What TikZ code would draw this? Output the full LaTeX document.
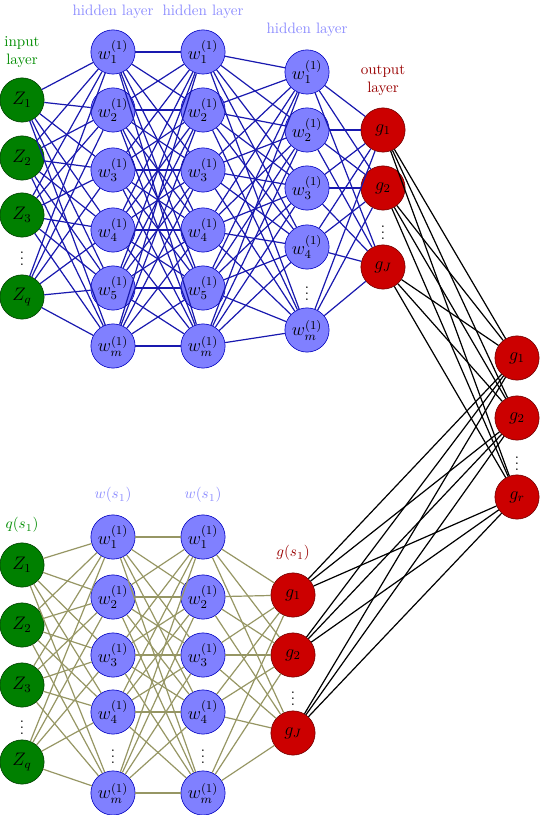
\documentclass[tikz,border=0pt]{standalone}
\usepackage{tikz}

\definecolor{netblue}{RGB}{25,25,175}
\definecolor{netolive}{RGB}{150,150,100}

\begin{document}
\begin{tikzpicture}[x=0.0233cm, y=-0.0233cm,
    inputnode/.style={circle, draw=green!25!black, fill=green!50!black, minimum size=1.03cm, inner sep=0pt, font=\large},
    hiddennode/.style={circle, draw=blue!75!black, fill=blue!50, minimum size=1.03cm, inner sep=0pt, font=\large},
    outputnode/.style={circle, draw=red!45!black, fill=red!80!black, minimum size=1.03cm, inner sep=0pt, font=\large},
    dotsnode/.style={inner sep=0pt},
    topedge/.style={draw=netblue, line width=0.8pt},
    botedge/.style={draw=netolive, line width=0.8pt},
    outedge/.style={draw=black, line width=0.8pt}]
    \useasboundingbox (0,0) rectangle (540,815);

    % labels
    \node[text=green!55!black, align=center] (lin) at (22,52) {input\\layer};
    \node[text=blue!45] (lh1) at (113,12) {hidden layer};
    \node[text=blue!45] (lh2) at (203,12) {hidden layer};
    \node[text=blue!45] (lh3) at (307,30) {hidden layer};
    \node[text=red!60!black, align=center] (lout) at (383,80) {output\\layer};
    \node[text=green!55!black] (lq) at (22,525) {$q(s_1)$};
    \node[text=blue!45] (lw1) at (113,495) {$w(s_1)$};
    \node[text=blue!45] (lw2) at (203,495) {$w(s_1)$};
    \node[text=red!60!black] (lg) at (293,553) {$g(s_1)$};

    % upper network
    \node[inputnode] (i1) at (22,100) {$Z_1$};
    \node[inputnode] (i2) at (22,158) {$Z_2$};
    \node[inputnode] (i3) at (22,215) {$Z_3$};
    \node[dotsnode] (idots) at (22,254) {$\vdots$};
    \node[inputnode] (i4) at (22,297) {$Z_q$};

    \node[hiddennode] (a1) at (113,52) {$w_1^{(1)}$};
    \node[hiddennode] (a2) at (113,110) {$w_2^{(1)}$};
    \node[hiddennode] (a3) at (113,170) {$w_3^{(1)}$};
    \node[hiddennode] (a4) at (113,230) {$w_4^{(1)}$};
    \node[hiddennode] (a5) at (113,288) {$w_5^{(1)}$};
    \node[hiddennode] (a6) at (113,346) {$w_m^{(1)}$};

    \node[hiddennode] (b1) at (203,52) {$w_1^{(1)}$};
    \node[hiddennode] (b2) at (203,110) {$w_2^{(1)}$};
    \node[hiddennode] (b3) at (203,170) {$w_3^{(1)}$};
    \node[hiddennode] (b4) at (203,230) {$w_4^{(1)}$};
    \node[hiddennode] (b5) at (203,288) {$w_5^{(1)}$};
    \node[hiddennode] (b6) at (203,346) {$w_m^{(1)}$};

    \node[hiddennode] (c1) at (307,72) {$w_1^{(1)}$};
    \node[hiddennode] (c2) at (307,130) {$w_2^{(1)}$};
    \node[hiddennode] (c3) at (307,188) {$w_3^{(1)}$};
    \node[hiddennode] (c4) at (307,247) {$w_4^{(1)}$};
    \node[dotsnode] (cdots) at (307,289) {$\vdots$};
    \node[hiddennode] (c5) at (307,330) {$w_m^{(1)}$};

    \node[outputnode] (o1) at (383,130) {$g_1$};
    \node[outputnode] (o2) at (383,188) {$g_2$};
    \node[dotsnode] (odots) at (383,228) {$\vdots$};
    \node[outputnode] (o3) at (383,267) {$g_J$};

    % final layer
    \node[outputnode] (f1) at (517,358) {$g_1$};
    \node[outputnode] (f2) at (517,418) {$g_2$};
    \node[dotsnode] (fdots) at (517,459) {$\vdots$};
    \node[outputnode] (f3) at (517,497) {$g_r$};

    % lower network
    \node[inputnode] (j1) at (22,565) {$Z_1$};
    \node[inputnode] (j2) at (22,625) {$Z_2$};
    \node[inputnode] (j3) at (22,685) {$Z_3$};
    \node[dotsnode] (jdots) at (22,723) {$\vdots$};
    \node[inputnode] (j4) at (22,762) {$Z_q$};

    \node[hiddennode] (d1) at (113,537) {$w_1^{(1)}$};
    \node[hiddennode] (d2) at (113,597) {$w_2^{(1)}$};
    \node[hiddennode] (d3) at (113,655) {$w_3^{(1)}$};
    \node[hiddennode] (d4) at (113,712) {$w_4^{(1)}$};
    \node[dotsnode] (ddots) at (113,752) {$\vdots$};
    \node[hiddennode] (d5) at (113,793) {$w_m^{(1)}$};

    \node[hiddennode] (e1) at (203,537) {$w_1^{(1)}$};
    \node[hiddennode] (e2) at (203,597) {$w_2^{(1)}$};
    \node[hiddennode] (e3) at (203,655) {$w_3^{(1)}$};
    \node[hiddennode] (e4) at (203,712) {$w_4^{(1)}$};
    \node[dotsnode] (edots) at (203,752) {$\vdots$};
    \node[hiddennode] (e5) at (203,793) {$w_m^{(1)}$};

    \node[outputnode] (p1) at (293,595) {$g_1$};
    \node[outputnode] (p2) at (293,655) {$g_2$};
    \node[dotsnode] (pdots) at (293,694) {$\vdots$};
    \node[outputnode] (p3) at (293,733) {$g_J$};

    % connections
    \foreach \s in {1,...,4}
        \foreach \t in {1,...,6}
            \draw[topedge] (i\s) -- (a\t);
    \foreach \s in {1,...,6}
        \foreach \t in {1,...,6}
            \draw[topedge] (a\s) -- (b\t);
    \foreach \s in {1,...,6}
        \foreach \t in {1,...,5}
            \draw[topedge] (b\s) -- (c\t);
    \foreach \s in {1,...,5}
        \foreach \t in {1,...,3}
            \draw[topedge] (c\s) -- (o\t);

    \foreach \s in {1,...,4}
        \foreach \t in {1,...,5}
            \draw[botedge] (j\s) -- (d\t);
    \foreach \s in {1,...,5}
        \foreach \t in {1,...,5}
            \draw[botedge] (d\s) -- (e\t);
    \foreach \s in {1,...,5}
        \foreach \t in {1,...,3}
            \draw[botedge] (e\s) -- (p\t);

    \foreach \s in {1,...,3}
        \foreach \t in {1,...,3} {
            \draw[outedge] (o\s) -- (f\t);
            \draw[outedge] (p\s) -- (f\t);
        }
\end{tikzpicture}
\end{document}
